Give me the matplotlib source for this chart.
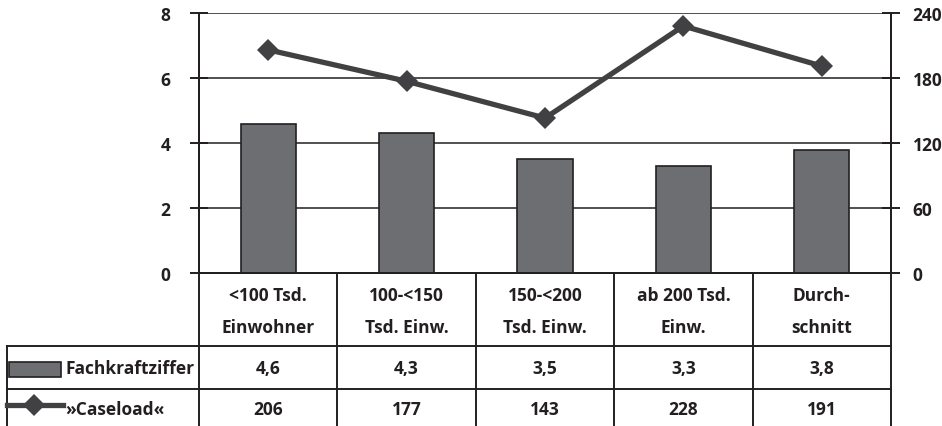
import matplotlib
matplotlib.use("Agg")
import matplotlib.pyplot as plt
from matplotlib.lines import Line2D
from matplotlib.patches import Rectangle
from matplotlib.transforms import blended_transform_factory

# --- data ---
categories = ["<100 Tsd.\nEinwohner", "100-<150\nTsd. Einw.", "150-<200\nTsd. Einw.",
              "ab 200 Tsd.\nEinw.", "Durch-\nschnitt"]
fachkraftziffer = [4.6, 4.3, 3.5, 3.3, 3.8]
caseload = [206, 177, 143, 228, 191]
fach_labels = ["4,6", "4,3", "3,5", "3,3", "3,8"]
case_labels = ["206", "177", "143", "228", "191"]
left_ticks = [0, 2, 4, 6, 8]
right_ticks = [0, 60, 120, 180, 240]
series_names = ["Fachkraftziffer", "»Caseload«"]

# --- style ---
BAR = "#6d6e71"
EDGE = "#231f20"
LINE = "#414042"
INK = "#231f20"
FONT = dict(family="Open Sans", weight="bold", size=12.5, color=INK)

W, H = 942, 427
fig = plt.figure(figsize=(W / 100, H / 100), dpi=100)
x0, x1, y0, y1 = 199, 891, 274, 14
ax = fig.add_axes([x0 / W, 1 - y0 / H, (x1 - x0) / W, (y0 - y1) / H])
ax2 = ax.twinx()

xs = list(range(len(categories)))
ax.bar(xs, fachkraftziffer, width=0.4, color=BAR, edgecolor=EDGE, linewidth=1.2, zorder=3)
ax.set_xlim(-0.5, len(categories) - 0.5)
ax.set_ylim(0, 8)
ax.set_yticks(left_ticks)
ax.grid(axis="y", color=INK, linewidth=1.1, zorder=0)
ax.set_axisbelow(True)

ax2.plot(xs, caseload, color=LINE, linewidth=3.8, marker="D", markersize=11.5,
         markeredgewidth=0, zorder=4)
ax2.set_ylim(0, 240)
ax2.set_yticks(right_ticks)

for a in (ax, ax2):
    a.spines["top"].set_visible(False)
    for s in ("left", "right", "bottom"):
        a.spines[s].set_color(INK)
        a.spines[s].set_linewidth(1.4)
    a.tick_params(axis="y", direction="inout", length=13, width=1.4, color=INK)
    for lab in a.get_yticklabels():
        lab.set(**FONT)
ax.tick_params(axis="x", bottom=False, labelbottom=False)
ax.tick_params(axis="y", pad=14)
ax2.tick_params(axis="y", pad=9)

# --- data table below the plot ---
tr_x = blended_transform_factory(ax.transData, ax.transAxes)
ph = y0 - y1
def fy(py):
    return (y0 - py) / ph

def fx(px):
    return (px - x0) / (x1 - x0)

row_cat_top, row1_top, row2_top, bottom = 274, 347, 390, 427
left_edge = fx(7)

lk = dict(color=INK, linewidth=1.4, clip_on=False, transform=ax.transAxes)
for i in range(len(categories) + 1):
    xa = i / len(categories)
    ax.add_line(Line2D([xa, xa], [fy(row_cat_top), fy(bottom + 2)], **lk))
for py in (row1_top, row2_top):
    ax.add_line(Line2D([left_edge, 1], [fy(py), fy(py)], **lk))
ax.add_line(Line2D([left_edge, left_edge], [fy(row1_top), fy(bottom + 2)], **lk))

for i, cat in enumerate(categories):
    l1, l2 = cat.split("\n")
    ax.text(i, fy(296), l1, transform=tr_x, ha="center", va="center", **FONT)
    ax.text(i, fy(328), l2, transform=tr_x, ha="center", va="center", **FONT)
    ax.text(i, fy(369), fach_labels[i], transform=tr_x, ha="center", va="center", **FONT)
    ax.text(i, fy(410), case_labels[i], transform=tr_x, ha="center", va="center", **FONT)

# legend keys in the row headers
ax.add_patch(Rectangle((fx(9), fy(378)), fx(61) - fx(9), fy(363) - fy(378),
                       facecolor=BAR, edgecolor=EDGE, linewidth=1.2,
                       transform=ax.transAxes, clip_on=False))
ax.add_line(Line2D([fx(7), fx(63)], [fy(406), fy(406)], color=LINE, linewidth=3.8,
                   transform=ax.transAxes, clip_on=False))
ax.add_line(Line2D([fx(34)], [fy(406)], color=LINE, marker="D", markersize=11.5,
                   markeredgewidth=0, linestyle="none", transform=ax.transAxes, clip_on=False))
ax.text(fx(65), fy(369), series_names[0], transform=ax.transAxes, ha="left", va="center", **FONT)
ax.text(fx(65), fy(410), series_names[1], transform=ax.transAxes, ha="left", va="center", **FONT)

fig.savefig("out.png", dpi=100)
